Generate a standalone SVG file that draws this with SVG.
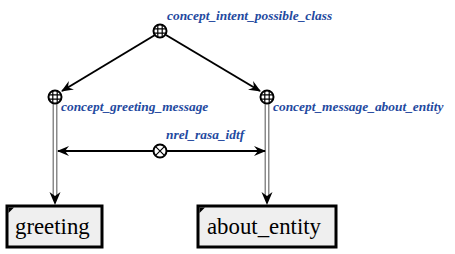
<svg xmlns="http://www.w3.org/2000/svg" width="455" height="254" viewBox="0 0 455 254">
  <defs>
    <style>
      .lbl { font-family: "Liberation Serif", "DejaVu Serif", serif; font-style: italic; font-weight: bold; font-size: 13.4px; fill: #1f4aa0; }
      .box { fill: #efefef; stroke: #000; stroke-width: 3; }
      .boxtxt { font-family: "Liberation Serif", "Times New Roman", serif; font-size: 22.8px; fill: #000; }
      .node { fill: #fff; stroke: #000; stroke-width: 2; }
      .grid { stroke: #000; stroke-width: 1.2; fill: none; }
      .arc { stroke: #000; stroke-width: 2; fill: none; }
      .pairOuter { stroke: #8a8a8a; stroke-width: 5; fill: none; }
      .pairInner { stroke: #fff; stroke-width: 2; fill: none; }
    </style>
    <marker id="arrow" viewBox="0 0 12 10" refX="11" refY="5" markerWidth="12" markerHeight="10" markerUnits="userSpaceOnUse" orient="auto">
      <path d="M0,0 L12,5 L0,10 L4,5 Z" fill="#000"/>
    </marker>
    <g id="classNode">
      <circle r="6.5" class="node"/>
      <path class="grid" d="M-2.2,-6 V6 M2.2,-6 V6 M-6,-2.2 H6 M-6,2.2 H6"/>
    </g>
  </defs>

  <g id="connectors">
    <!-- membership arcs from the class node -->
    <line class="arc" x1="155" y1="35" x2="62" y2="91" marker-end="url(#arrow)"/>
    <line class="arc" x1="166" y1="35" x2="260" y2="91" marker-end="url(#arrow)"/>
    <!-- pair arcs down to the boxes -->
    <line class="pairOuter" x1="55" y1="104" x2="55" y2="196"/>
    <line class="pairInner" x1="55" y1="104" x2="55" y2="196"/>
    <path d="M49.5,192 L55,205 L60.5,192 L55,196 Z" fill="#000"/>
    <line class="pairOuter" x1="267" y1="104" x2="267" y2="196"/>
    <line class="pairInner" x1="267" y1="104" x2="267" y2="196"/>
    <path d="M261.5,192 L267,205 L272.5,192 L267,196 Z" fill="#000"/>
    <!-- relation arcs -->
    <line class="arc" x1="153" y1="151" x2="58" y2="151" marker-end="url(#arrow)"/>
    <line class="arc" x1="167" y1="151" x2="265" y2="151" marker-end="url(#arrow)"/>
  </g>

  <g id="concept_intent_possible_class">
    <use href="#classNode" x="160" y="31"/>
    <text class="lbl" x="167" y="20">concept_intent_possible_class</text>
  </g>

  <g id="concept_greeting_message">
    <use href="#classNode" x="55" y="97"/>
    <text class="lbl" x="61" y="111">concept_greeting_message</text>
  </g>

  <g id="concept_message_about_entity">
    <use href="#classNode" x="267" y="97"/>
    <text class="lbl" x="273" y="111">concept_message_about_entity</text>
  </g>

  <g id="nrel_rasa_idtf">
    <circle cx="160" cy="151" r="6.5" class="node"/>
    <path class="grid" d="M155.4,146.4 L164.6,155.6 M164.6,146.4 L155.4,155.6" stroke-width="1.6"/>
    <text class="lbl" x="166" y="139">nrel_rasa_idtf</text>
  </g>

  <g id="greeting">
    <rect class="box" x="7" y="206" width="95" height="41"/>
    <path d="M8.5,207.5 H14 L8.5,213 Z" fill="#000"/>
    <text class="boxtxt" x="15" y="234">greeting</text>
  </g>

  <g id="about_entity">
    <rect class="box" x="198" y="206" width="138" height="41"/>
    <path d="M199.5,207.5 H205 L199.5,213 Z" fill="#000"/>
    <text class="boxtxt" x="207" y="234">about_entity</text>
  </g>
</svg>
